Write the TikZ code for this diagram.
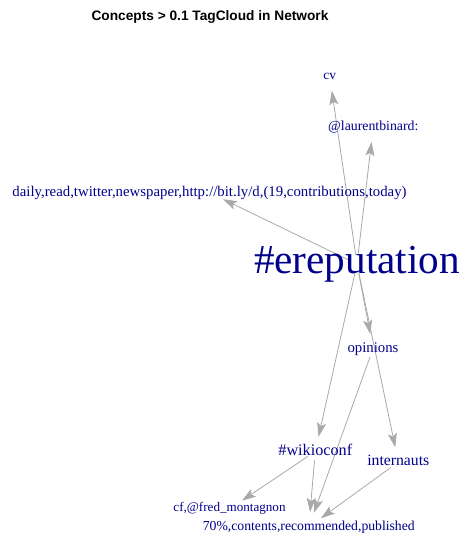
\documentclass[tikz,border=0pt]{standalone}
\usepackage{fontspec}
\setmainfont{Liberation Serif}
\newfontfamily\titlefont{Liberation Sans}
\usetikzlibrary{arrows.meta,backgrounds}
\newcommand\fsz[1]{\fontsize{#1pt}{#1pt}\selectfont}
\definecolor{labblue}{HTML}{00008B}
\definecolor{edgegray}{HTML}{A9A9A9}
\tikzset{
  lab/.style={text=labblue, inner sep=0pt, outer sep=0pt, anchor=center},
  edge/.style={draw=edgegray, line width=0.8pt, shorten <=9pt, shorten >=15pt,
    -{Stealth[length=14pt, width=9pt, inset=3pt]}}
}
\begin{document}
\begin{tikzpicture}[x=1pt,y=-1pt]
\useasboundingbox (0,0) rectangle (464,539);
\node[anchor=base, inner sep=0pt] (title) at (210,20) {\titlefont\bfseries\fsz{13.7}Concepts > 0.1 TagCloud in Network};
\node[lab, font=\fsz{41.2}, text height=22.7pt, text depth=4.1pt] (hub) at (357,264) {\#ereputation};
\node[lab, font=\fsz{13.4}, text height=7.4pt, text depth=1.34pt] (cv) at (329.7,76) {cv};
\node[lab, font=\fsz{13.8}, text height=7.6pt, text depth=1.38pt] (laurent) at (373.3,127) {@laurentbinard:};
\node[lab, font=\fsz{14.8}, text height=8.14pt, text depth=1.48pt] (daily) at (209.5,192.7) {daily,read,twitter,newspaper,http://bit.ly/d,(19,contributions,today)};
\node[lab, font=\fsz{14.8}, text height=8.14pt, text depth=1.48pt] (opinions) at (373,348.7) {opinions};
\node[lab, font=\fsz{16.2}, text height=8.9pt, text depth=1.62pt] (wikio) at (315.3,451.4) {\#wikioconf};
\node[lab, font=\fsz{15.7}, text height=8.6pt, text depth=1.57pt] (intern) at (398.3,462) {internauts};
\node[lab, font=\fsz{13.1}, text height=7.2pt, text depth=1.31pt] (cf) at (229.5,509) {cf,@fred\_montagnon};
\node[lab, font=\fsz{13.7}, text height=7.5pt, text depth=1.37pt] (pct) at (308.8,527) {70\%,contents,recommended,published};
\begin{scope}[on background layer]
\draw[edge] (hub.center) -- (cv.center);
\draw[edge] (hub.center) -- (laurent.center);
\draw[edge] (hub.center) -- (daily.center);
\draw[edge] (hub.center) -- (opinions.center);
\draw[edge] (hub.center) -- (wikio.center);
\draw[edge] (hub.center) -- (intern.center);
\draw[edge] (opinions.center) -- (pct.center);
\draw[edge] (wikio.center) -- (cf.center);
\draw[edge] (wikio.center) -- (pct.center);
\draw[edge] (intern.center) -- (pct.center);
\end{scope}
\end{tikzpicture}
\end{document}
